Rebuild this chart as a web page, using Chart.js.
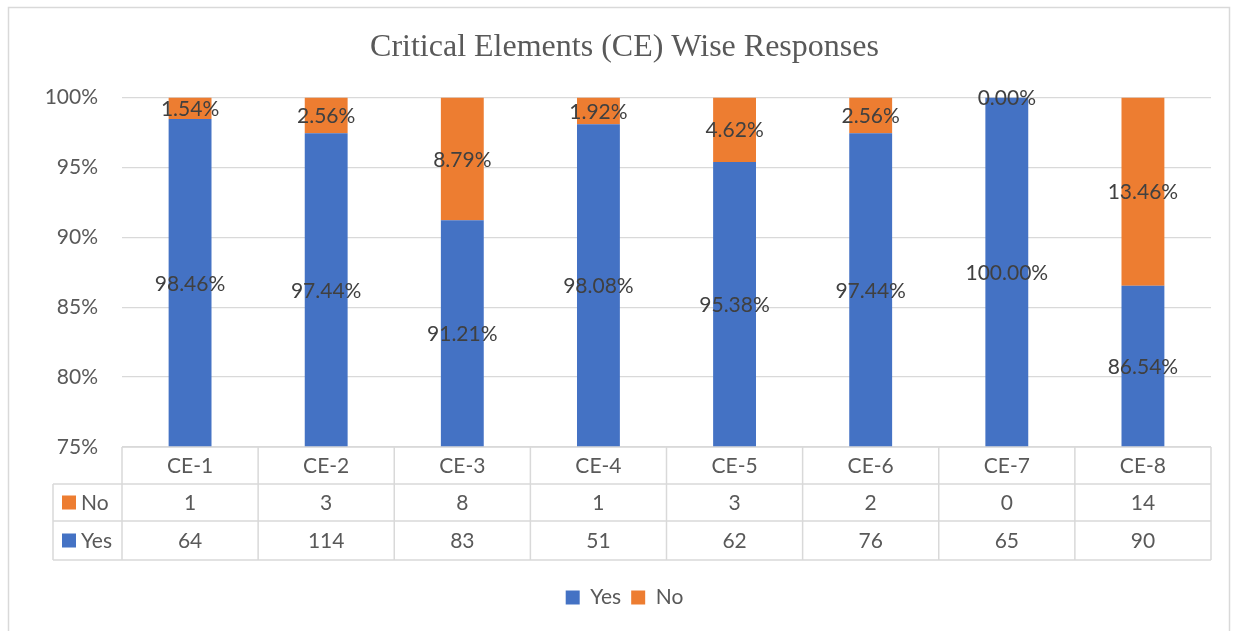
<!DOCTYPE html>
<html>
<head>
<meta charset="utf-8">
<script src="https://cdn.jsdelivr.net/npm/chart.js@4.4.1/dist/chart.umd.min.js"></script>
<style>
  html, body { margin: 0; padding: 0; background: #fff; }
  #wrap { width: 1234px; height: 631px; position: relative; }
</style>
</head>
<body>
<div id="wrap"><canvas id="chartCE" width="1234" height="631"></canvas></div>
<script>
const categorias = ['CE-1', 'CE-2', 'CE-3', 'CE-4', 'CE-5', 'CE-6', 'CE-7', 'CE-8']
const respuestasSi = [64, 114, 83, 51, 62, 76, 65, 90]
const respuestasNo = [1, 3, 8, 1, 3, 2, 0, 14]
const ticksY = [75, 80, 85, 90, 95, 100]

const azul = '#4472C4'
const naranja = '#ED7D31'
const gris = '#d9d9d9'
const fuente = 'Lato, "Open Sans", sans-serif'

// porcentaje de cada serie sobre el total de la columna (grafico 100% apilado)
const pctSi = respuestasSi.map((v, i) => v / (v + respuestasNo[i]) * 100)
const pctNo = respuestasNo.map((v, i) => v / (v + respuestasSi[i]) * 100)

const etiquetas = {
    id: 'etiquetas',
    afterDatasetsDraw(chart) {
        const { ctx, chartArea } = chart
        ctx.save()
        ctx.font = '21px ' + fuente
        ctx.fillStyle = '#404040'
        ctx.textAlign = 'center'
        ctx.textBaseline = 'middle'
        chart.data.datasets.forEach((ds, di) => {
            chart.getDatasetMeta(di).data.forEach((bar, i) => {
                const arriba = Math.max(Math.min(bar.y, bar.base), chartArea.top)
                const abajo = Math.min(Math.max(bar.y, bar.base), chartArea.bottom)
                ctx.fillText(ds.data[i].toFixed(2) + '%', bar.x, (arriba + abajo) / 2 + 1)
            })
        })
        ctx.restore()
    }
}

const tabla = {
    id: 'tabla',
    afterDraw(chart) {
        const { ctx, chartArea } = chart
        const izq = chartArea.left
        const der = chartArea.right
        const ancho = (der - izq) / categorias.length
        const filas = [chartArea.bottom, chartArea.bottom + 37, chartArea.bottom + 74, chartArea.bottom + 113]
        const col0 = 53
        ctx.save()
        ctx.strokeStyle = gris
        ctx.lineWidth = 1.5
        ctx.beginPath()
        ctx.moveTo(izq, filas[0]); ctx.lineTo(der, filas[0])
        for (let r = 1; r < 4; r++) { ctx.moveTo(col0, filas[r]); ctx.lineTo(der, filas[r]) }
        ctx.moveTo(col0, filas[1]); ctx.lineTo(col0, filas[3])
        for (let c = 0; c <= categorias.length; c++) {
            const x = izq + c * ancho
            ctx.moveTo(x, filas[0]); ctx.lineTo(x, filas[3])
        }
        ctx.stroke()

        // marco exterior
        ctx.strokeRect(8.5, 7.5, 1221, 640)

        ctx.font = '21px ' + fuente
        ctx.fillStyle = '#595959'
        ctx.textBaseline = 'middle'
        ctx.textAlign = 'center'
        categorias.forEach((c, i) => {
            const x = izq + (i + 0.5) * ancho
            ctx.fillText(c, x, (filas[0] + filas[1]) / 2 + 1)
            ctx.fillText(String(respuestasNo[i]), x, (filas[1] + filas[2]) / 2 + 1)
            ctx.fillText(String(respuestasSi[i]), x, (filas[2] + filas[3]) / 2 + 1)
        })
        ctx.textAlign = 'left'
        const filasSerie = [['No', naranja, 1], ['Yes', azul, 2]]
        filasSerie.forEach(([txt, color, r]) => {
            const yc = (filas[r] + filas[r + 1]) / 2
            ctx.fillStyle = color
            ctx.fillRect(62, yc - 7, 14, 14)
            ctx.fillStyle = '#595959'
            ctx.fillText(txt, 81, yc + 1)
        })
        ctx.restore()
    }
}

const canvas = document.getElementById('chartCE')
const context = canvas.getContext('2d')

const chartCE = new Chart(context, {
    type: 'bar',
    data: {
        labels: categorias,
        datasets: [
            { label: 'Yes', data: pctSi, backgroundColor: azul, clip: 0 },
            { label: 'No', data: pctNo, backgroundColor: naranja, clip: 0 }
        ]
    },
    options: {
        responsive: false,
        animation: false,
        layout: { padding: { left: 15, right: 0, top: 0, bottom: 13 } },
        datasets: { bar: { categoryPercentage: 1, barPercentage: 0.315 } },
        scales: {
            x: {
                stacked: true,
                ticks: { display: false },
                grid: { display: false },
                border: { display: false },
                afterFit: s => { s.height = 130 }
            },
            y: {
                stacked: true,
                min: 75,
                max: 100,
                afterBuildTicks: s => { s.ticks = ticksY.map(v => ({ value: v })) },
                ticks: {
                    callback: v => v + '%',
                    color: '#595959',
                    font: { family: fuente, size: 21 },
                    padding: 24
                },
                grid: { color: gris, lineWidth: 1.3, drawTicks: false },
                border: { display: false },
                afterFit: s => { s.width = 107 }
            },
            y2: {
                position: 'right',
                display: true,
                ticks: { display: false },
                grid: { display: false },
                border: { display: false },
                afterFit: s => { s.width = 23 }
            }
        },
        plugins: {
            title: {
                display: true,
                text: 'Critical Elements (CE) Wise Responses',
                color: '#595959',
                font: { family: '"Liberation Serif", "Times New Roman", serif', size: 32, weight: 'normal' },
                padding: { top: 28, bottom: 31 }
            },
            legend: {
                position: 'bottom',
                labels: {
                    boxWidth: 14,
                    boxHeight: 14,
                    padding: 10,
                    color: '#595959',
                    font: { family: fuente, size: 21 }
                }
            },
            tooltip: { enabled: false }
        }
    },
    plugins: [etiquetas, tabla]
})
</script>
</body>
</html>
